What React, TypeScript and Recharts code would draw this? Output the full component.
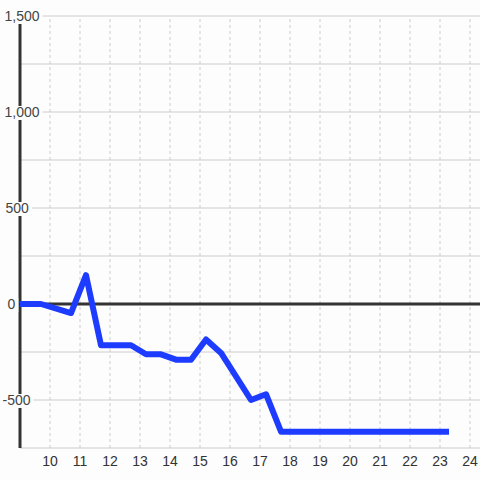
import { LineChart, Line, XAxis, YAxis, ReferenceLine } from "recharts";

// hour of day and value
const hours = [9, 9.7, 10.7, 11.2, 11.7, 12.7, 13.2, 13.7, 14.2, 14.7, 15.2, 15.7, 16.7, 17.2, 17.7, 23.2];
const values = [0, 0, -47, 150, -215, -215, -262, -262, -290, -290, -185, -255, -500, -470, -665, -665];

const xTicks = [10, 11, 12, 13, 14, 15, 16, 17, 18, 19, 20, 21, 22, 23, 24];
const yTicks = [-750, -500, -250, 0, 250, 500, 750, 1000, 1250, 1500];

const data = hours.map((h, i) => ({ h, v: values[i] }));

const BG = "#fcfdfc";
const FONT = "'Liberation Sans', Arial, sans-serif";

const fmt = (v: number) => v.toLocaleString("en-US");

// rough Arial widths at 14px
const textWidth = (s: string) =>
  s.split("").reduce((w, c) => w + (c === "," ? 3.9 : c === "-" ? 4.7 : 7.8), 0);

const YTick = (props: any) => {
  const { y, payload } = props;
  const v = payload.value as number;
  if (v % 500 !== 0) return null;
  const label = fmt(v);
  const x0 = v < 0 ? 2.5 : v === 0 ? 7.5 : v >= 1000 ? 4.5 : 5.5;
  const w = textWidth(label);
  return (
    <g>
      <rect x={x0} y={y - 6} width={w + 3} height={14} fill={BG} />
      <text x={x0} y={y} dy="0.35em" textAnchor="start" fontSize={14} fill="#444" fontFamily={FONT}>
        {label}
      </text>
    </g>
  );
};

export default function App() {
  return (
    <div style={{ position: "absolute", left: 0, top: 0, width: 480, height: 480, background: BG }}>
      <LineChart width={480} height={480} data={data} margin={{ top: 16, right: 0, bottom: 2, left: 0 }}>
        {yTicks.map((t) => (
          <ReferenceLine key={`y${t}`} y={t} stroke="#ccc" />
        ))}
        {xTicks.map((t) => (
          <ReferenceLine key={`x${t}`} x={t} stroke="#ccc" strokeDasharray="3 3" />
        ))}
        <XAxis
          dataKey="h"
          type="number"
          domain={[9, 24.333]}
          ticks={xTicks}
          height={30}
          axisLine={false}
          tickLine={false}
          tick={{ fontSize: 14, fill: "#333", fontFamily: FONT }}
          allowDataOverflow
        />
        <YAxis
          width={20}
          type="number"
          domain={[-750, 1500]}
          ticks={yTicks}
          axisLine={false}
          tickLine={false}
          tick={<YTick />}
          interval={0}
        />
        <ReferenceLine x={9} stroke="#333" strokeWidth={3} />
        <ReferenceLine y={0} stroke="#333" strokeWidth={3} />
        <Line
          dataKey="v"
          type="linear"
          stroke="#1e3cff"
          strokeWidth={6}
          strokeLinecap="square"
          strokeLinejoin="round"
          dot={false}
          activeDot={false}
          isAnimationActive={false}
        />
      </LineChart>
    </div>
  );
}
